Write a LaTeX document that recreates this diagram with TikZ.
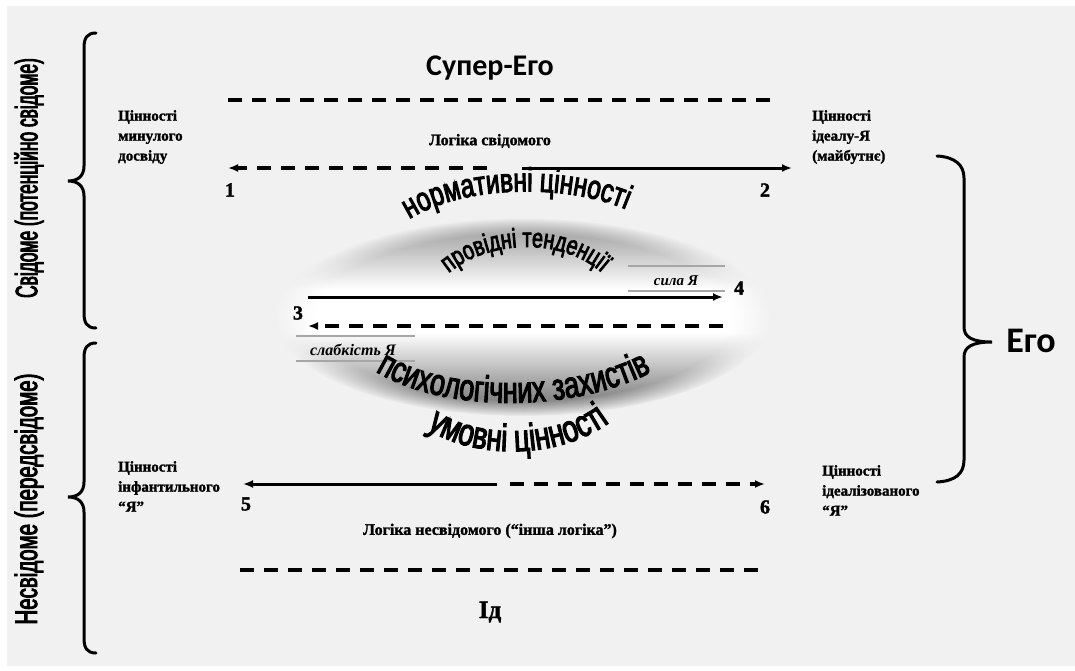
\documentclass[tikz,border=0pt]{standalone}
\usepackage{fontspec}
\setmainfont{Liberation Serif}[BoldFeatures={FakeBold=1.6}]
\newfontfamily\arcfont[FakeStretch=0.73,FakeBold=3]{Liberation Sans}
\newfontfamily\vertfontA[FakeStretch=0.56,FakeBold=3]{Liberation Sans}
\newfontfamily\vertfontB[FakeStretch=0.66,FakeBold=3]{Liberation Sans}
\newfontfamily\egofont{Carlito}
\usetikzlibrary{arrows.meta,decorations.text,fadings}
\definecolor{bg}{RGB}{241,241,241}
\pgfdeclareradialshading{ellfadeshade}{\pgfpointorigin}{color(0bp)=(white); color(21bp)=(white); color(25bp)=(black); color(50bp)=(black)}
\pgfdeclarefading{ellfade}{\pgfuseshading{ellfadeshade}}
\pgfdeclareverticalshading{ellsh}{100bp}{color(0bp)=(black!52); color(25bp)=(black!52); color(30bp)=(black!46); color(46bp)=(white); color(57bp)=(white); color(67bp)=(black!24); color(75bp)=(black!42); color(100bp)=(black!42)}
\begin{document}
\begin{tikzpicture}[x=1pt,y=-1pt,
  lbl/.style={font=\bfseries\fontsize{15}{20}\selectfont, align=left, anchor=north west, inner sep=0pt},
  num/.style={font=\bfseries\fontsize{20}{20}\selectfont, inner sep=0pt},
  ttl/.style={font=\bfseries\fontsize{16}{16}\selectfont, inner sep=0pt},
  dline/.style={line width=3.2pt, dash pattern=on 14pt off 10pt},
  sline/.style={line width=3pt},
  arr/.style={-{Latex[length=10pt,width=8pt]}},
  bracestyle/.style={line width=3pt, line cap=round},
  gband/.style={black!35, line width=2.5pt},
  smallit/.style={font=\bfseries\itshape\fontsize{15}{15}\selectfont, inner sep=0pt}]
\useasboundingbox (0,0) rectangle (1075,670);
\fill[white] (0,0) rectangle (1075,670);
\fill[bg] (7,6) rectangle (1075,666);

% ellipse
\shade[shading=ellsh, path fading=ellfade]
  (523,317) ellipse [x radius=248pt, y radius=99pt];

% vertical texts
\node[rotate=90, inner sep=0pt, font=\vertfontA\fontsize{31}{31}\selectfont] (vt1) at (29,178) {Свідоме (потенційно свідоме)};
\node[rotate=90, inner sep=0pt, font=\vertfontB\fontsize{31}{31}\selectfont] (vt2) at (29,499) {Несвідоме (передсвідоме)};

% braces
\draw[bracestyle] (96,33) .. controls (87,33) and (84,38) .. (84,48) -- (84,166)
  .. controls (84,176) and (78,181) .. (68,181) .. controls (78,181) and (84,186) .. (84,196)
  -- (84,313) .. controls (84,323) and (87,328) .. (96,328);
\draw[bracestyle] (96,343) .. controls (87,343) and (84,348) .. (84,358) -- (84,482)
  .. controls (84,492) and (78,497) .. (68,497) .. controls (78,497) and (84,502) .. (84,512)
  -- (84,638) .. controls (84,648) and (87,653) .. (96,653);
\draw[bracestyle] (937,156) .. controls (955,157) and (964,165) .. (964,178) -- (964,327)
  .. controls (964,337) and (972,342) .. (992,342) .. controls (972,342) and (964,347) .. (964,357)
  -- (964,460) .. controls (964,474) and (955,481) .. (937,482);

% titles
\node[font=\egofont\bfseries\fontsize{30}{30}\selectfont, inner sep=0pt] (super) at (490,68) {Супер-Его};
\node[font=\egofont\bfseries\fontsize{36}{36}\selectfont, inner sep=0pt] (ego) at (1031,341) {Его};
\node[font=\bfseries\fontsize{25}{25}\selectfont, inner sep=0pt] (id) at (490,612) {Ід};
\node[ttl] (logs) at (490,141) {Логіка свідомого};
\node[ttl] (logn) at (490,531) {Логіка несвідомого (“інша логіка”)};

% side labels
\node[lbl] (v1) at (118,110) {Цінності\\минулого\\досвіду};
\node[lbl] (v2) at (812,110) {Цінності\\ідеалу-Я\\(майбутнє)};
\node[lbl] (v5) at (118,461) {Цінності\\інфантильного\\“Я”};
\node[lbl] (v6) at (822,465) {Цінності\\ідеалізованого\\“Я”};

% numbers
\node[num] (n1) at (230,190) {1};
\node[num] (n2) at (765,190) {2};
\node[num] (n3) at (298,313) {3};
\node[num] (n4) at (739,288) {4};
\node[num] (n5) at (246,504) {5};
\node[num] (n6) at (765,507) {6};

% boundary dashed lines
\coordinate (t1) at (228,100); \coordinate (t2) at (780,100);
\draw[dline] (t1) -- (t2);
\coordinate (b1) at (240,570); \coordinate (b2) at (764,570);
\draw[dline] (b1) -- (b2);

% row 1-2
\coordinate (r1L) at (228,168); \coordinate (r1M) at (487,168);
\coordinate (r1N) at (522,168); \coordinate (r1R) at (792,168);
\draw[dline, arr] (r1M) -- (r1L);
\draw[sline, arr] (r1N) -- (r1R);

% row 3-4
\coordinate (r3L) at (308,297); \coordinate (r3R) at (723,297);
\coordinate (r4L) at (308,326); \coordinate (r4R) at (723,326);
\draw[sline, arr] (r3L) -- (r3R);
\draw[dline, arr] (r4R) -- (r4L);

% row 5-6
\coordinate (r5L) at (243,484); \coordinate (r5M) at (497,484);
\coordinate (r5N) at (510,484); \coordinate (r5R) at (765,484);
\draw[sline, arr] (r5M) -- (r5L);
\draw[dline, arr] (r5N) -- (r5R);

% sila / slabkist
\draw[gband] (628,266) -- (725,266);
\draw[gband] (628,291) -- (725,291);
\node[smallit] (sila) at (676,281) {сила Я};
\draw[gband] (296,336) -- (415,336);
\draw[gband] (296,361) -- (415,361);
\node[smallit, font=\bfseries\itshape\fontsize{16}{16}\selectfont] (slab) at (353,350) {слабкість Я};

% arched texts
\path[decorate, decoration={text along path, text align=center,
  text={|\arcfont\fontsize{33.5}{33.5}\selectfont|нормативні цінності}}]
  (391,234) .. controls (440,182) and (580,178) .. (647,220);
\path[decorate, decoration={text along path, text align=center,
  text={|\arcfont\fontsize{27}{27}\selectfont|провідні тенденції}}]
  (436,286) .. controls (476,236) and (574,232) .. (614,286);
\path[decorate, decoration={text along path, text align=center,
  text={|\arcfont\fontsize{37}{37}\selectfont|психологічних захистів}}]
  (362,362) .. controls (430,416) and (582,416) .. (666,364);
\path[decorate, decoration={text along path, text align=center,
  text={|\arcfont\fontsize{38}{38}\selectfont|умовні цінності}}]
  (412,416) .. controls (458,464) and (572,464) .. (624,410);
\end{tikzpicture}
\end{document}
